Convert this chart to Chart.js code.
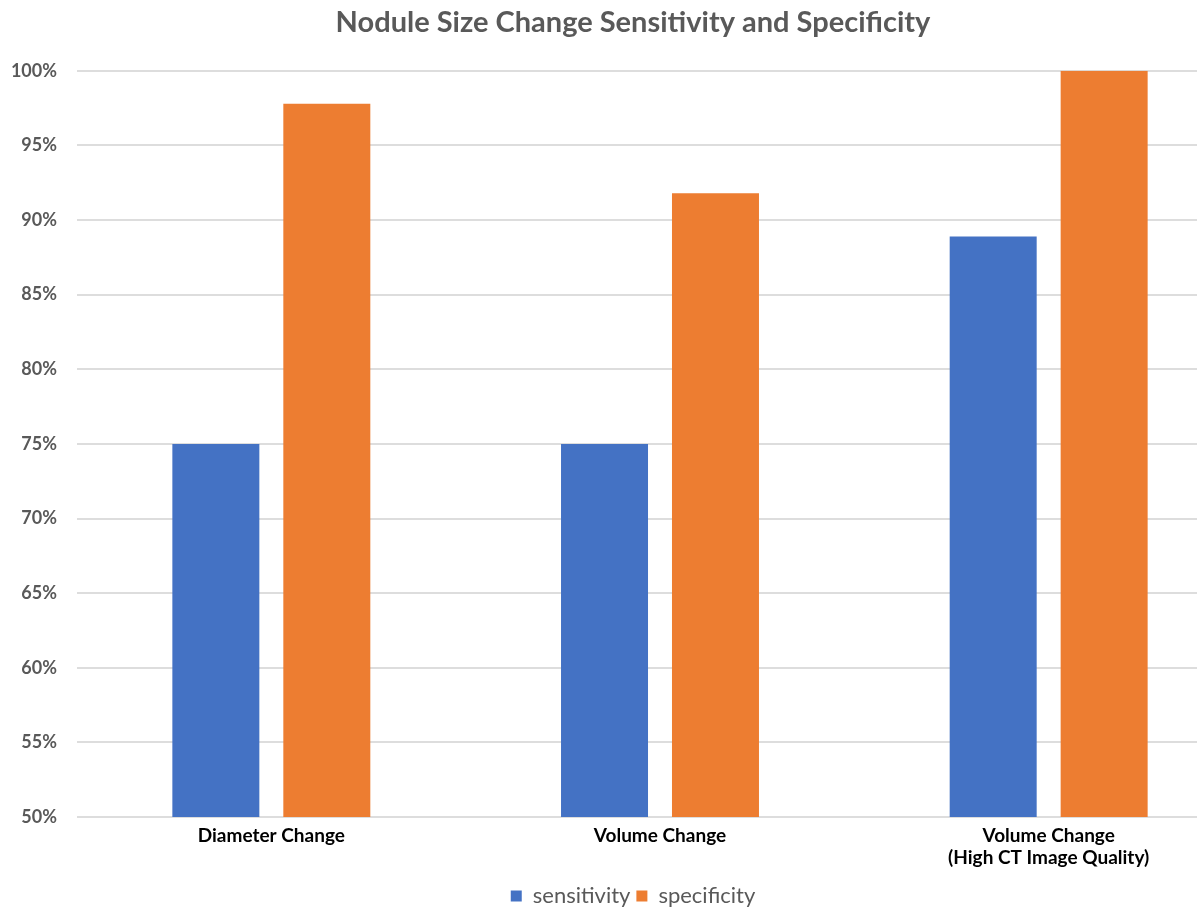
<!DOCTYPE html>
<html><head><meta charset="utf-8">
<script src="https://cdn.jsdelivr.net/npm/chart.js@4/dist/chart.umd.min.js"></script>
<style>
html,body{margin:0;padding:0;background:#fff;overflow:hidden;width:1197px;height:908px;}
#wrap{width:1266px;height:917px;position:relative;}
</style></head><body>
<div id="wrap"><canvas id="c" width="1266" height="917"></canvas></div>
<script>
const categories = [["Diameter Change"], ["Volume Change"], ["Volume Change", "(High CT Image Quality)"]];
const sensitivity = [75, 75, 88.9];
const specificity = [97.8, 91.8, 100];
const yTicks = [50, 55, 60, 65, 70, 75, 80, 85, 90, 95, 100];

const FONT = "Lato, 'Open Sans', sans-serif";
new Chart(document.getElementById('c'), {
  type: 'bar',
  data: {
    labels: categories,
    datasets: [
      {label: 'sensitivity', data: sensitivity, backgroundColor: '#4472C4', categoryPercentage: 0.571, barPercentage: 0.784},
      {label: 'specificity', data: specificity, backgroundColor: '#ED7D31', categoryPercentage: 0.571, barPercentage: 0.784}
    ]
  },
  options: {
    responsive: false,
    animation: false,
    layout: {padding: {left: 0, right: 0, top: 0, bottom: 0}},
    plugins: {
      title: {display: true, text: 'Nodule Size Change Sensitivity and Specificity', color: '#595959',
        font: {family: FONT, size: 29, weight: 'bold'}, padding: {top: 5, bottom: 31}},
      legend: {position: 'bottom', labels: {color: '#595959', font: {family: FONT, size: 22}, boxWidth: 11, boxHeight: 11, padding: 6}},
      tooltip: {enabled: false}
    },
    scales: {
      x: {
        grid: {display: false, drawTicks: false},
        border: {display: false},
        ticks: {color: '#000', font: {family: FONT, size: 19, weight: 'bold'}, padding: 7, maxRotation: 0},
        afterFit: s => { s.height = 62; }
      },
      y: {
        min: 50, max: 100,
        afterBuildTicks: s => { s.ticks = yTicks.map(v => ({value: v})); },
        grid: {color: '#DDDDDD', lineWidth: 2, drawTicks: false},
        border: {display: false},
        ticks: {color: '#595959', font: {family: FONT, size: 18, weight: 'bold'}, padding: 20, callback: v => v + '%'},
        afterFit: s => { s.width = 77; }
      },
      yRight: {
        position: 'right', min: 50, max: 100,
        grid: {display: false, drawTicks: false},
        border: {display: false},
        ticks: {display: false},
        afterFit: s => { s.width = 23; }
      }
    }
  }
});
</script>
</body></html>
